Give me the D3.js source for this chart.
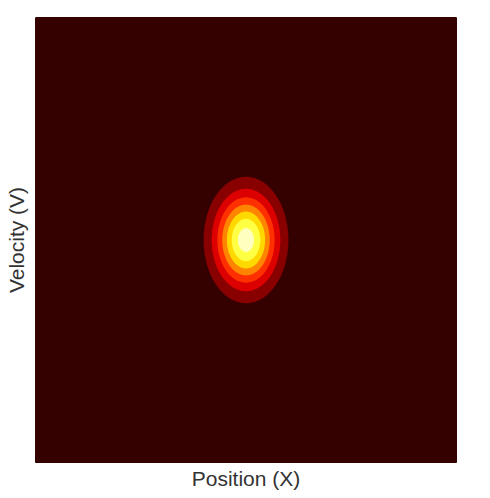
<!DOCTYPE html>
<html>
<head>
<meta charset="utf-8">
<script src="https://cdn.jsdelivr.net/npm/d3@7"></script>
<style>
  body { margin: 0; background: #fff; }
  text { font-family: "Liberation Sans", Arial, sans-serif; fill: #333; }
</style>
</head>
<body>
<svg id="chart" width="490" height="498"></svg>
<script>
// phase-space density: gaussian in position / velocity
const xDomain = [-10, 10];
const vDomain = [-10, 10];
const center = [0, 0];
const sigma = [1.0, 1.41];
const levels = [0, 0.015, 0.03, 0.045, 0.06, 0.075, 0.09, 0.105, 0.12];
// "hot" colormap at band midpoints
const colors = ["#350000", "#880000", "#dc0000", "#ff3000",
                "#ff8400", "#ffd800", "#ffff43", "#ffffc0"];

const margin = { top: 17, right: 33, bottom: 35, left: 35 };
const svg = d3.select("#chart");
const width = +svg.attr("width") - margin.left - margin.right;
const height = +svg.attr("height") - margin.top - margin.bottom;

const x = d3.scaleLinear().domain(xDomain).range([0, width]);
const y = d3.scaleLinear().domain(vDomain).range([height, 0]);

// sample the density on a grid
const nx = 300, ny = 300;
const values = new Float64Array(nx * ny);
const norm = 1 / (2 * Math.PI * sigma[0] * sigma[1]);
for (let j = 0; j < ny; j++) {
  const v = vDomain[1] - (j + 0.5) / ny * (vDomain[1] - vDomain[0]);
  for (let i = 0; i < nx; i++) {
    const xv = xDomain[0] + (i + 0.5) / nx * (xDomain[1] - xDomain[0]);
    const dx = (xv - center[0]) / sigma[0];
    const dv = (v - center[1]) / sigma[1];
    values[i + j * nx] = norm * Math.exp(-0.5 * (dx * dx + dv * dv));
  }
}

const contours = d3.contours().size([nx, ny]).thresholds(levels)(values);

// grid coords -> data -> pixels
const proj = d3.geoTransform({
  point: function (gx, gy) {
    const xv = xDomain[0] + gx / nx * (xDomain[1] - xDomain[0]);
    const v = vDomain[1] - gy / ny * (vDomain[1] - vDomain[0]);
    this.stream.point(x(xv), y(v));
  }
});
const path = d3.geoPath(proj);

const g = svg.append("g")
  .attr("transform", `translate(${margin.left},${margin.top})`);

g.append("clipPath").attr("id", "clip")
  .append("rect").attr("width", width).attr("height", height);

g.append("g")
  .attr("clip-path", "url(#clip)")
  .selectAll("path")
  .data(contours)
  .enter()
  .append("path")
  .attr("d", path)
  .attr("fill", (d) => colors[levels.indexOf(d.value)]);

// axis labels
g.append("text")
  .attr("x", width / 2)
  .attr("y", height + 23)
  .attr("text-anchor", "middle")
  .style("font-size", "21px")
  .text("Position (X)");

g.append("text")
  .attr("transform", `translate(${24 - margin.left},${height / 2}) rotate(-90)`)
  .attr("text-anchor", "middle")
  .style("font-size", "21px")
  .text("Velocity (V)");
</script>
</body>
</html>
